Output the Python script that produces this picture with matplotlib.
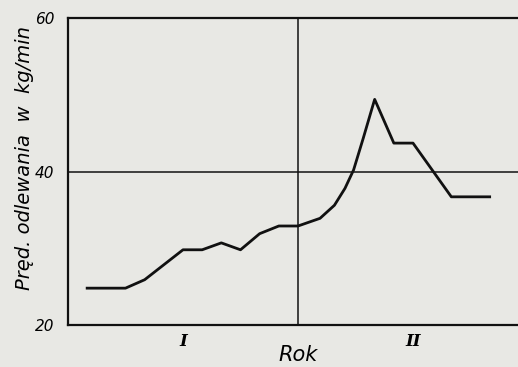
import matplotlib.pyplot as plt

# months from start of year I (12 = start of year II)
months = [1, 3, 4, 6, 7, 8, 9, 10, 11, 12, 13.15, 13.9, 14.45, 14.9, 15.4, 16,
          17, 18, 20, 22]
speed = [24.8, 24.8, 25.9, 29.8, 29.8, 30.7, 29.8, 31.9, 32.9, 32.9,
         33.9, 35.6, 37.8, 40.2, 44.3, 49.4, 43.7, 43.7, 36.7, 36.7]
year_labels = ['I', 'II']
year_pos = [6, 18]
yticks = [20, 40, 60]

bg = '#e8e8e4'
fig = plt.figure(figsize=(5.18, 3.67), dpi=100, facecolor=bg)
ax = fig.add_axes([68 / 518, 42 / 367, 460 / 518, 307 / 367])
ax.set_facecolor(bg)

ax.plot(months, speed, color='#111111', lw=2.0)
ax.axhline(40, color='#111111', lw=1.1)
ax.axvline(12, color='#111111', lw=1.1)

ax.set_xlim(0, 24)
ax.set_ylim(20, 60)
for s in ['left', 'bottom', 'top']:
    ax.spines[s].set_linewidth(1.6)
    ax.spines[s].set_color('#111111')
ax.spines['right'].set_visible(False)

ax.set_yticks(yticks)
ax.set_yticklabels([str(v) for v in yticks], fontsize=11, style='italic')
ax.set_xticks(year_pos)
ax.set_xticklabels(year_labels, fontsize=12, style='italic', family='DejaVu Serif',
                   fontweight='bold')
ax.tick_params(length=0, pad=6)
ax.tick_params(axis='y', pad=10)

fig.text(25 / 518, 1 - 158 / 367, 'Pręd. odlewania  w  kg/min', fontsize=14,
         style='italic', rotation=90, ha='center', va='center')
fig.text(298 / 518, 1 - 355 / 367, 'Rok', fontsize=15, style='italic',
         ha='center', va='center')

fig.savefig('out.png', dpi=100, facecolor=bg)
